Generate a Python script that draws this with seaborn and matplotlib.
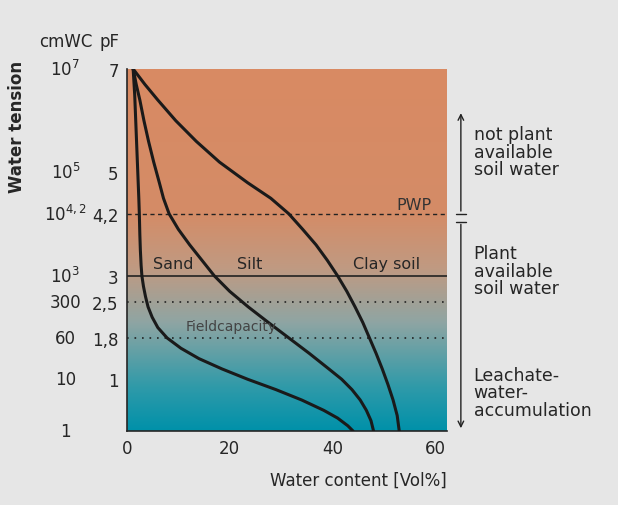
import numpy as np
import matplotlib.pyplot as plt
import seaborn as sns
from matplotlib.colors import LinearSegmentedColormap

# water content [Vol%] vs pF
sand_pf = [7, 6.5, 6, 5.5, 5, 4.5, 4.2, 3.8, 3.5, 3.2, 3, 2.8, 2.6, 2.4, 2.2, 2.0, 1.8, 1.6,
           1.4, 1.2, 1.0, 0.8, 0.6, 0.4, 0.25, 0.1, 0]
sand_wc = [1.2, 1.5, 1.7, 1.9, 2.1, 2.3, 2.4, 2.5, 2.6, 2.75, 2.9, 3.2, 3.6, 4.1, 4.9, 6.0,
           7.8, 10.5, 14, 18.5, 23.5, 29, 34, 38.3, 41, 43, 44]
silt_pf = [7, 6.7, 6.4, 6, 5.6, 5.2, 4.8, 4.5, 4.2, 3.9, 3.6, 3.3, 3, 2.7, 2.4, 2.1, 1.8,
           1.5, 1.2, 1.0, 0.8, 0.6, 0.4, 0.2, 0]
silt_wc = [1.2, 1.8, 2.5, 3.3, 4.2, 5.2, 6.3, 7.1, 8.2, 10, 12.2, 14.6, 17, 20, 23.6, 27.5,
           31.5, 35.5, 39.3, 41.8, 43.8, 45.4, 46.6, 47.5, 48]
clay_pf = [7, 6.7, 6.4, 6, 5.6, 5.2, 4.8, 4.5, 4.2, 3.9, 3.6, 3.3, 3, 2.7, 2.4, 2.1, 1.8,
           1.5, 1.2, 0.9, 0.6, 0.3, 0]
clay_wc = [1.2, 3.5, 6, 9.5, 13.5, 18, 23.5, 28, 31.5, 34.2, 36.8, 39, 41, 42.8, 44.4, 45.9,
           47.2, 48.5, 49.7, 50.8, 51.8, 52.6, 53]

pf_ticks = [0, 1, 1.8, 2.5, 3, 4.2, 5, 7]
pf_labels = ["", "1", "1,8", "2,5", "3", "4,2", "5", "7"]
cm_labels = ["1", "10", "60", "300", r"$10^3$", r"$10^{4,2}$", r"$10^5$", r"$10^7$"]
x_ticks = [0, 20, 40, 60]

sns.set_style("ticks")
plt.rcParams["font.family"] = ["DejaVu Sans"]
bg = "#e6e6e6"
fig = plt.figure(figsize=(6.18, 5.06), dpi=100, facecolor=bg)
ax = fig.add_axes([127 / 618, 1 - 432 / 506, 320 / 618, 362 / 506])

cmap = LinearSegmentedColormap.from_list(
    "soil", [(0, "#0091a9"), (0.12, "#2f9aa9"), (0.3, "#8fa5a3"),
             (0.45, "#c09a82"), (0.6, "#d48c67"), (1, "#d98a63")])
grad = np.linspace(0, 1, 256).reshape(-1, 1)
ax.imshow(grad, extent=[0, 62.3, 0, 7], origin="lower", aspect="auto", cmap=cmap, zorder=0)

for wc, pf in [(sand_wc, sand_pf), (silt_wc, silt_pf), (clay_wc, clay_pf)]:
    sns.lineplot(x=wc, y=pf, sort=False, ax=ax, color="#1a1a1a", lw=2.2, zorder=3)

ax.axhline(4.2, color="#222", lw=1, ls=(0, (3, 2.5)))
ax.axhline(3, color="#222", lw=1.2)
ax.axhline(2.5, color="#222", lw=1.2, ls=(0, (1, 3.5)))
ax.axhline(1.8, color="#222", lw=1.2, ls=(0, (1, 3.5)))

ax.text(5.0, 3.15, "Sand", fontsize=11.5)
ax.text(21.5, 3.15, "Silt", fontsize=11.5)
ax.text(44, 3.15, "Clay soil", fontsize=11.5)
ax.text(52.5, 4.3, "PWP", fontsize=11.5, color="#333")
ax.text(11.5, 1.95, "Fieldcapacity", fontsize=10, color="#444")

ax.set_xlim(0, 62.3)
ax.set_ylim(0, 7)
ax.set_xticks(x_ticks)
ax.set_yticks(pf_ticks)
ax.set_yticklabels(pf_labels)
ax.tick_params(labelsize=12, length=0, pad=6)
for s in ["top", "right"]:
    ax.spines[s].set_visible(False)
ax.spines["left"].set_linewidth(1.2)
ax.spines["bottom"].set_linewidth(1.2)
ax.set_xlabel("Water content [Vol%]", fontsize=12)
ax.xaxis.set_label_coords(1.0, -0.11)
ax.xaxis.label.set_ha("right")

for p, lab in zip(pf_ticks, cm_labels):
    ax.text(-12, p, lab, fontsize=12, ha="center", va="center")
ax.text(-12, 7.55, "cmWC", fontsize=12, ha="center", va="center", clip_on=False)
ax.text(-1.5, 7.55, "pF", fontsize=12, ha="right", va="center", clip_on=False)
ax.text(-21.5, 5.9, "Water tension", fontsize=12, rotation=90, ha="center", va="center",
        weight="bold")

# right side brackets
ax.annotate("", xy=(65, 6.2), xytext=(65, 4.2), xycoords="data", annotation_clip=False,
            arrowprops=dict(arrowstyle="->", color="#222", lw=1))
ax.annotate("", xy=(65, 0), xytext=(65, 4.05), xycoords="data", annotation_clip=False,
            arrowprops=dict(arrowstyle="->", color="#222", lw=1))
ax.plot([64, 66], [4.2, 4.2], color="#222", lw=1, clip_on=False)
ax.plot([64, 66], [4.05, 4.05], color="#222", lw=1, clip_on=False)
ax.text(67.5, 5.4, "not plant\navailable\nsoil water", fontsize=12.5, va="center",
        linespacing=0.95)
ax.text(67.5, 3.1, "Plant\navailable\nsoil water", fontsize=12.5, va="center", linespacing=0.95)
ax.text(67.5, 0.75, "Leachate-\nwater-\naccumulation", fontsize=12.5, va="center",
        linespacing=0.95)

fig.savefig("out.png", dpi=100, facecolor=bg)
